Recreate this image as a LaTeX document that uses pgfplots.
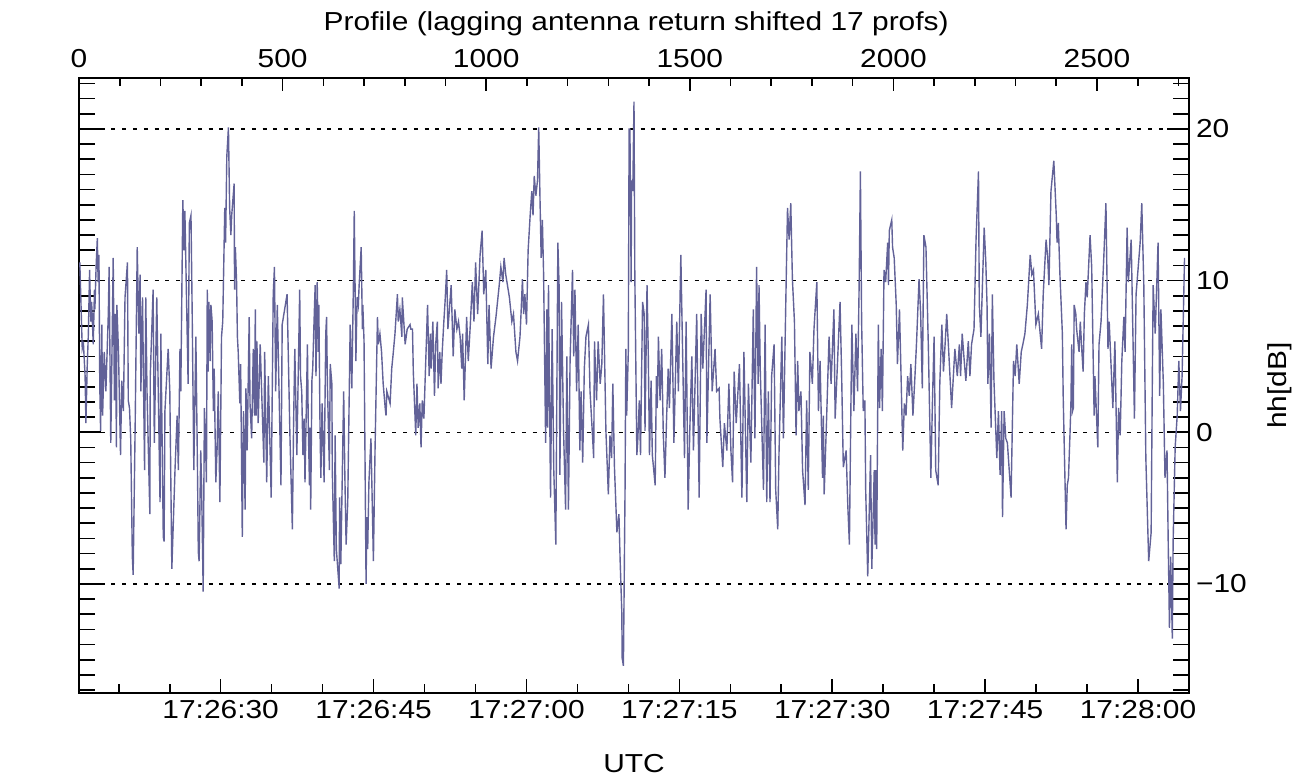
\documentclass[border=0pt]{standalone}
\usepackage{fontspec}
\setmainfont{Liberation Sans}[FakeStretch=1.15]
\usepackage{pgfplots}
\usepackage{pgfplotstable}
\pgfplotsset{compat=1.18}
\definecolor{trace}{RGB}{98,98,152}
\newcommand{\lbl}{\fontsize{13bp}{15bp}\selectfont}
\pgfplotstableread{
p db
2 11.2
8 5.5
11 5.8
15 3.7
17 0.6
20 4.2
23 6.5
26 10.7
29 7.3
31 8.6
35 5.8
38 9.4
39 8.1
42 10.9
45 12.8
47 9.9
49 11.7
51 3.2
53 0.1
56 7.1
58 1.1
62 5.3
66 2.7
72 7.8
74 10.9
78 -0.7
81 5.3
84 11.5
87 2.1
89 7.8
92 -1.0
93 8.4
97 5.3
102 -1.5
105 3.4
109 1.4
113 8.9
119 11.2
121 2.1
124 1.6
127 -0.4
131 -8.2
133 -9.4
138 0.6
143 12.2
147 6.5
150 10.4
152 2.7
156 8.9
160 -0.2
161 -2.5
164 8.9
167 2.7
174 -5.4
175 3.7
182 9.4
185 -0.7
191 8.9
199 -4.6
201 6.5
207 -6.9
209 -7.2
211 1.4
219 5.5
223 2.7
228 -9.0
236 -2.3
241 1.1
244 -2.5
248 5.5
250 2.7
255 15.3
258 12.0
260 14.6
268 3.2
271 13.8
275 14.3
278 7.8
282 -2.5
287 6.3
291 -2.5
293 -7.9
295 -8.5
299 -1.2
301 -3.5
305 -10.5
308 1.6
310 0.1
313 -3.3
315 9.4
317 4.0
319 8.6
322 4.7
324 8.4
327 7.3
330 1.4
332 4.2
336 -3.3
339 -1.2
342 2.7
346 -4.6
350 6.3
353 7.3
358 14.8
360 12.5
363 18.2
367 20.1
370 14.8
373 13.0
375 14.3
381 16.4
382 9.4
384 12.2
387 9.9
389 6.3
391 5.3
395 1.9
397 4.5
401 -6.9
404 1.4
408 -5.1
410 2.9
413 -1.2
418 7.6
420 1.9
424 -0.4
428 5.5
431 1.1
433 8.1
435 1.1
437 6.0
440 0.6
445 5.8
454 -2.0
456 5.3
461 -3.3
465 3.7
472 -4.3
477 9.1
480 10.9
483 2.7
487 8.4
496 -3.5
499 7.1
511 9.1
518 -0.2
524 -6.4
527 0.6
530 5.5
535 -1.5
542 9.4
544 3.7
547 2.7
550 -1.5
553 0.9
555 -3.3
561 5.8
563 0.6
566 -3.5
567 0.3
569 -5.1
572 3.4
574 4.2
577 7.1
580 9.7
582 3.7
585 9.9
588 5.3
589 8.4
592 0.1
594 -3.0
597 1.9
602 -3.3
606 6.5
608 7.6
610 3.2
615 -2.5
617 4.5
621 3.2
622 -2.5
627 -8.5
629 -0.2
632 -7.7
639 -10.3
640 -4.3
643 -8.7
650 2.7
653 -3.0
656 -7.4
660 -4.6
666 7.1
670 2.9
674 9.9
676 14.6
680 4.7
683 8.9
686 8.4
688 9.7
693 12.2
696 6.8
697 8.4
700 6.0
705 -10.0
707 -5.6
709 -7.7
712 -3.3
717 -0.4
723 -8.5
727 -1.2
733 7.6
735 5.8
739 6.5
743 5.3
747 3.2
752 1.6
754 1.1
756 2.7
764 1.9
768 4.2
772 5.3
776 6.5
782 9.1
784 7.3
788 8.1
793 6.3
794 8.9
801 5.8
806 6.8
813 7.1
815 6.8
819 6.8
821 4.0
827 -0.2
830 3.2
833 0.3
837 1.9
840 -1.0
843 2.1
847 0.9
850 3.4
856 8.4
860 3.7
863 6.5
865 4.2
869 7.3
873 2.4
876 5.8
880 7.3
882 2.9
886 5.3
889 3.2
892 5.3
896 7.3
899 8.6
903 10.7
906 6.8
914 9.7
919 5.0
923 8.1
928 6.8
932 7.3
936 6.3
940 4.2
942 6.5
946 2.1
952 7.6
956 4.7
961 7.1
966 9.9
970 7.3
974 11.2
979 7.8
985 11.7
990 13.3
994 9.1
999 10.7
1004 4.5
1007 8.4
1012 4.2
1018 6.3
1024 7.6
1032 9.7
1036 10.9
1041 9.9
1044 11.5
1048 10.4
1057 8.9
1063 7.3
1067 7.8
1073 5.3
1077 4.7
1083 6.3
1086 8.1
1089 10.1
1092 7.8
1095 9.1
1099 7.1
1103 12.0
1108 14.3
1112 15.9
1115 14.3
1118 16.9
1122 15.6
1126 16.6
1129 20.1
1132 15.6
1135 11.5
1138 14.0
1141 10.4
1146 -0.7
1149 8.1
1151 0.3
1153 9.7
1158 -4.3
1162 6.8
1166 -2.5
1171 -7.4
1176 12.5
1179 9.7
1181 -2.8
1185 8.6
1190 0.1
1195 -5.1
1198 5.0
1202 -5.1
1206 4.7
1212 10.7
1215 5.0
1218 9.4
1222 2.7
1226 7.1
1230 -1.2
1233 2.7
1237 -2.0
1241 4.2
1245 6.3
1251 7.1
1255 2.7
1261 -0.2
1264 -1.7
1266 6.0
1271 2.1
1275 6.0
1280 3.2
1284 4.5
1288 9.1
1294 0.1
1300 -4.1
1304 -0.2
1308 -1.7
1311 3.2
1315 -2.3
1321 -6.6
1326 -5.4
1329 -8.5
1333 -11.8
1334 -14.9
1337 -15.4
1341 -3.8
1343 5.5
1345 1.1
1349 5.3
1351 20.0
1353 20.0
1356 9.9
1357 16.6
1360 15.9
1363 21.8
1365 10.4
1370 -1.5
1372 -0.7
1376 2.1
1379 -1.5
1382 4.5
1384 8.6
1388 7.8
1390 0.1
1395 9.7
1398 5.3
1401 -1.5
1405 3.4
1408 -1.5
1415 -3.5
1418 3.7
1420 1.6
1423 6.3
1427 2.1
1431 5.5
1435 -0.2
1439 -3.0
1443 0.9
1447 4.2
1450 1.6
1456 7.8
1461 -0.7
1468 7.3
1472 2.7
1478 11.7
1482 5.8
1487 -1.7
1491 7.3
1496 -5.1
1500 0.1
1505 5.0
1509 -1.2
1517 7.8
1523 -4.3
1528 7.8
1532 4.2
1540 9.4
1542 -0.7
1550 9.1
1555 2.7
1562 5.5
1566 2.7
1572 2.9
1574 0.9
1581 -2.3
1585 0.6
1591 -1.2
1596 3.2
1601 -1.2
1605 -3.3
1609 4.0
1614 0.6
1622 4.5
1628 -4.3
1633 5.3
1640 -4.6
1644 3.2
1650 -2.0
1656 8.1
1660 -0.4
1664 10.9
1668 3.2
1670 9.7
1673 4.2
1681 -3.8
1685 7.1
1689 -4.6
1693 2.7
1697 -4.6
1701 3.7
1707 5.8
1711 -3.8
1716 -6.4
1719 -1.5
1726 6.3
1730 -0.4
1736 8.9
1740 14.8
1744 12.7
1748 15.1
1752 10.1
1757 7.3
1761 -0.2
1765 4.7
1768 1.4
1773 2.7
1777 -2.5
1783 -4.8
1787 2.1
1791 -3.8
1795 5.3
1801 3.2
1805 6.8
1812 9.9
1816 1.4
1820 4.7
1826 -3.0
1828 1.1
1830 -4.1
1836 0.9
1842 6.3
1847 3.2
1854 8.1
1857 0.9
1869 8.6
1873 3.7
1877 -2.3
1884 -1.2
1888 -4.8
1892 -7.4
1895 0.1
1898 7.1
1903 1.4
1908 6.5
1912 2.7
1916 9.9
1919 17.2
1922 7.3
1926 1.4
1930 2.1
1932 -3.8
1937 -9.5
1944 -1.5
1947 -9.0
1953 -2.5
1955 -7.4
1957 -2.5
1959 -7.7
1963 7.1
1966 1.6
1970 5.5
1973 1.4
1977 10.7
1981 9.9
1986 12.5
1988 9.7
1990 13.3
1996 14.0
1998 12.2
2002 11.5
2007 8.4
2010 4.5
2015 8.1
2018 4.7
2023 -1.2
2027 1.9
2031 1.1
2035 3.7
2039 2.4
2043 4.5
2048 1.1
2053 3.7
2057 6.0
2063 10.1
2067 7.8
2071 2.9
2075 13.0
2080 12.2
2086 5.5
2092 -3.0
2096 2.1
2100 6.3
2104 -2.5
2110 -3.5
2114 3.2
2119 7.1
2123 4.0
2127 5.8
2131 7.8
2135 5.8
2143 1.6
2151 5.5
2157 3.7
2162 5.8
2165 3.7
2169 6.5
2174 4.7
2178 3.4
2184 6.0
2188 3.7
2192 5.8
2198 6.8
2203 12.7
2209 17.2
2211 8.4
2215 6.3
2218 9.1
2223 13.5
2227 11.2
2230 8.4
2232 3.2
2236 6.5
2240 0.3
2243 9.1
2247 3.4
2254 -1.7
2258 1.4
2262 -2.8
2266 1.4
2268 -5.6
2272 1.4
2276 -0.4
2280 -0.7
2289 -4.3
2295 4.7
2299 3.7
2303 5.8
2309 3.2
2314 5.3
2318 5.8
2323 6.5
2329 8.4
2336 11.7
2340 10.4
2344 10.7
2350 7.1
2356 7.8
2364 5.5
2368 9.1
2375 12.7
2379 11.5
2382 9.7
2387 15.9
2394 17.9
2400 14.3
2402 12.5
2405 13.8
2409 10.4
2415 6.5
2417 2.4
2424 -6.4
2427 -3.5
2430 -3.0
2434 0.1
2436 1.9
2438 5.8
2440 1.4
2442 1.6
2444 8.4
2448 7.8
2450 6.8
2456 5.3
2459 7.3
2463 5.3
2466 4.0
2469 7.8
2473 9.9
2476 8.9
2483 13.0
2487 10.9
2493 1.1
2495 3.7
2502 -1.0
2505 5.8
2510 7.3
2517 11.7
2522 15.1
2527 5.5
2530 7.3
2539 1.6
2544 6.0
2550 -3.3
2553 1.6
2557 -0.2
2561 4.7
2566 7.6
2569 5.3
2574 13.5
2577 9.9
2584 12.7
2592 0.9
2596 9.1
2606 12.5
2610 15.1
2615 9.7
2620 -1.7
2627 -8.5
2633 -6.6
2636 3.7
2638 9.7
2643 6.5
2650 12.5
2654 2.4
2657 8.1
2663 3.2
2667 -3.0
2672 -1.2
2675 -7.4
2678 -12.9
2681 -8.2
2685 -13.6
2687 -7.2
2692 -1.0
2697 1.1
2701 4.7
2705 1.4
2709 3.7
2715 11.5
}\trace
\begin{document}
\begin{tikzpicture}
\path[use as bounding box] (-39.5bp,-45bp) rectangle (618bp,346.5bp);
% data axis with y ticks, grid and labels
\begin{axis}[
  at={(0,0)}, anchor=south west,
  scale only axis, width=555bp, height=307.5bp,
  xmin=0, xmax=2726, ymin=-17.19, ymax=23.36,
  axis line style={line width=0.9bp},
  every tick/.style={black, line width=0.8bp},
  xtick=\empty,
  ytick pos=both, yticklabel pos=right,
  ytick={-10,0,10,20}, yticklabels={−10,0,10,20},
  minor ytick={-17,-16,...,23},
  major tick length=11bp, minor tick length=8bp,
  tick label style={font=\lbl},
  label style={font=\lbl},
  ymajorgrids,
  major grid style={black, line width=0.6bp, dash pattern=on 2bp off 3.4bp},
  ylabel={hh[dB]},
  ylabel style={at={(axis description cs:1.082,0.5)}, anchor=center},
  clip=true,
]
\addplot[trace, line width=0.7bp] table[x=p, y=db] {\trace};
\node[rotate=90, anchor=center, font=\lbl] at (axis description cs:-0.044,0.5) {down/down-fore};
\end{axis}
% top profile axis
\begin{axis}[
  at={(0,0)}, anchor=south west,
  scale only axis, width=555bp, height=307.5bp,
  xmin=0, xmax=2726, ymin=-17.19, ymax=23.36,
  axis x line*=top, axis y line=none,
  axis line style={line width=0.9bp},
  every tick/.style={black, line width=0.8bp},
  xtick={0,500,1000,1500,2000,2500},
  xticklabels={0,500,1000,1500,2000,2500},
  minor xtick={100,200,...,2700},
  major tick length=6.5bp, minor tick length=4bp,
  tick label style={font=\lbl},
  xticklabel style={yshift=1.5bp},
  label style={font=\lbl},
  xlabel={Profile (lagging antenna return shifted 17 profs)},
  xlabel style={at={(axis description cs:0.502,1.078)}, anchor=base},
]
\end{axis}
% bottom time axis
\begin{axis}[
  at={(0,0)}, anchor=south west,
  scale only axis, width=555bp, height=307.5bp,
  xmin=16.1, xmax=125.0, ymin=-17.19, ymax=23.36,
  axis x line*=bottom, axis y line=none,
  axis line style={line width=0.9bp},
  every tick/.style={black, line width=0.8bp},
  xtick={30,45,60,75,90,105,120},
  xticklabels={17:26:30,17:26:45,17:27:00,17:27:15,17:27:30,17:27:45,17:28:00},
  minor xtick={20,25,...,125},
  major tick length=7bp, minor tick length=4.5bp,
  tick label style={font=\lbl},
  label style={font=\lbl},
  xlabel={UTC},
  xlabel style={at={(axis description cs:0.5,-0.130)}, anchor=base},
]
\end{axis}
\end{tikzpicture}
\end{document}
